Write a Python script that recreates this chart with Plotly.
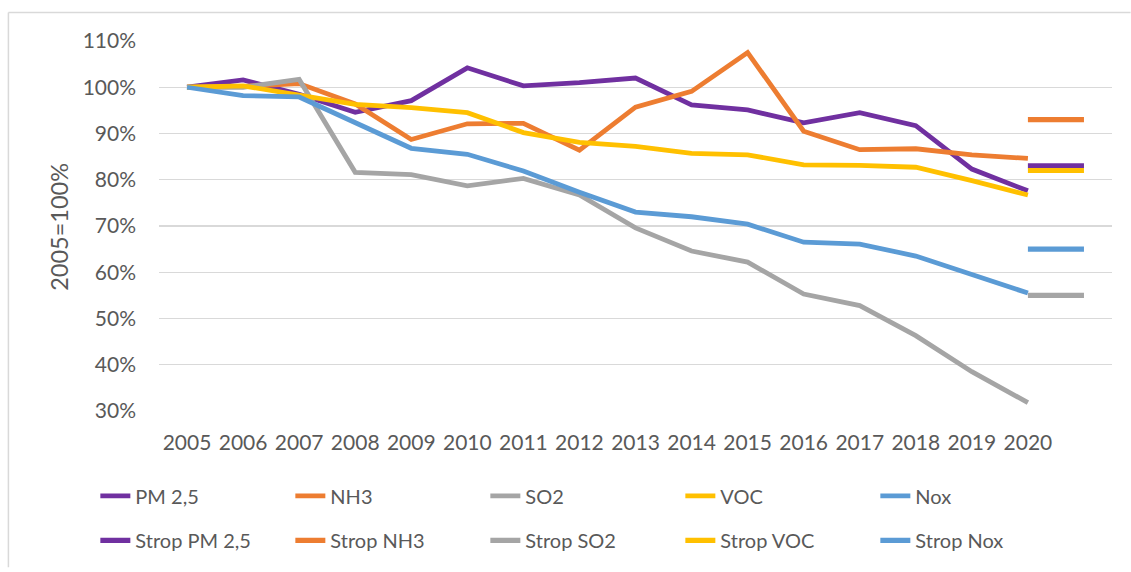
import plotly.graph_objects as go

years = list(range(2005, 2021))
target_span = [2020, 2021]

pm25 = [100, 101.6, 98.5, 94.6, 97.1, 104.2, 100.3, 101.0, 102.0, 96.2, 95.1, 92.3, 94.5, 91.7, 82.3, 77.6]
nh3 = [100, 100.2, 100.8, 96.4, 88.7, 92.1, 92.2, 86.4, 95.7, 99.1, 107.5, 90.5, 86.5, 86.7, 85.4, 84.6]
so2 = [100, 100.0, 101.7, 81.6, 81.1, 78.7, 80.3, 76.7, 69.6, 64.6, 62.2, 55.3, 52.8, 46.3, 38.5, 31.8]
voc = [100, 100.3, 98.3, 96.3, 95.6, 94.5, 90.2, 88.1, 87.2, 85.7, 85.4, 83.2, 83.1, 82.7, 79.8, 76.7]
nox = [100, 98.2, 97.9, 92.4, 86.8, 85.5, 81.9, 77.3, 73.0, 72.0, 70.4, 66.5, 66.1, 63.5, 59.6, 55.5]

strop_pm25 = 83.0
strop_nh3 = 93.0
strop_so2 = 55.0
strop_voc = 82.0
strop_nox = 65.0

names = ["PM 2,5", "NH3", "SO2", "VOC", "Nox"]
series = [pm25, nh3, so2, voc, nox]
strops = [strop_pm25, strop_nh3, strop_so2, strop_voc, strop_nox]
colors = ["#7030A0", "#ED7D31", "#A5A5A5", "#FFC000", "#5B9BD5"]

y_ticks = list(range(30, 111, 10))
y_tick_labels = [f"{v}%" for v in y_ticks]

FONT = "Lato"
TXT = "#595959"

fig = go.Figure()
for n, s, c in zip(names, series, colors):
    fig.add_trace(go.Scatter(x=years, y=s, mode="lines", name=n,
                             line=dict(color=c, width=4.8), legend="legend"))
for n, s, c in zip(names, strops, colors):
    fig.add_trace(go.Scatter(x=target_span, y=[s, s], mode="lines", name="Strop " + n,
                             line=dict(color=c, width=5.2), legend="legend2"))

W, H = 1131, 572
L, R, T, B = 158.7, 1112.4, 40.7, 414.3
pw, ph = R - L, B - T

def px_x(p):
    return (p - L) / pw

def px_y(p):
    return (B - p) / ph

fig.update_layout(
    width=W, height=H,
    margin=dict(l=L, r=W - R, t=T, b=H - B, pad=0),
    paper_bgcolor="white", plot_bgcolor="white",
    font=dict(family=FONT, color=TXT, size=20),
    showlegend=True,
    legend=dict(orientation="h", x=px_x(95), xanchor="left", y=px_y(500), yanchor="middle",
                font=dict(family=FONT, size=20, color=TXT), entrywidth=150, entrywidthmode="pixels",
                itemwidth=30, bgcolor="rgba(0,0,0,0)", traceorder="normal"),
    legend2=dict(orientation="h", x=px_x(95), xanchor="left", y=px_y(545), yanchor="middle",
                 font=dict(family=FONT, size=20, color=TXT), entrywidth=150, entrywidthmode="pixels",
                 itemwidth=30, bgcolor="rgba(0,0,0,0)", traceorder="normal"),
    xaxis=dict(range=[2004.5, 2021.5], tickmode="array", tickvals=years,
               ticktext=[str(y) for y in years], showgrid=False, zeroline=False,
               showline=False, ticks="", ticklabelstandoff=17,
               tickfont=dict(family=FONT, size=21, color=TXT)),
    yaxis=dict(range=[30, 110], tickmode="array", tickvals=y_ticks, ticktext=y_tick_labels,
               showgrid=True, gridcolor="#D9D9D9", gridwidth=1.3, zeroline=False,
               showline=False, ticks="", ticklabelstandoff=22,
               tickfont=dict(family=FONT, size=21, color=TXT)),
    annotations=[dict(text="2005=100%", x=px_x(59), y=px_y(228), xref="paper", yref="paper",
                      textangle=-90, showarrow=False, xanchor="center", yanchor="middle",
                      font=dict(family=FONT, size=23.5, color=TXT))],
    shapes=[
        dict(type="line", xref="paper", yref="paper", x0=px_x(8), x1=px_x(8), y0=px_y(12), y1=px_y(H),
             line=dict(color="#D9D9D9", width=1.5)),
        dict(type="line", xref="paper", yref="paper", x0=px_x(8), x1=px_x(W), y0=px_y(12), y1=px_y(12),
             line=dict(color="#D9D9D9", width=1.5)),
    ],
)

fig.write_html(
    "out.html",
    config={"displayModeBar": False, "staticPlot": True},
    post_script="document.documentElement.style.margin='0';document.body.style.margin='0';"
                "document.documentElement.style.overflow='hidden';document.body.style.overflow='hidden';",
)
